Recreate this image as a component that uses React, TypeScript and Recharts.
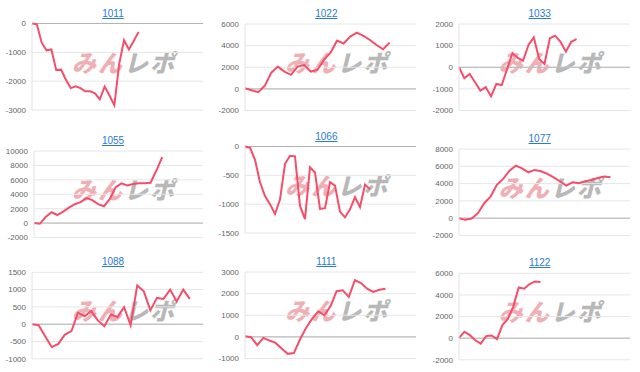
import React from "react"
import { LineChart, Line, XAxis, YAxis, CartesianGrid, ReferenceLine } from "recharts"

// one value per report day
const v1011 = [0, -30, -665, -930, -900, -1610, -1600, -1950, -2240, -2180, -2240, -2350, -2350, -2420, -2630, -2190, -2500, -2840, -1400, -580, -900, -610, -290]
const v1022 = [60, -120, -300, 280, 1500, 2060, 1600, 1300, 2060, 2200, 1600, 1750, 2680, 3350, 4460, 4200, 4830, 5200, 4900, 4520, 4060, 3660, 4280]
const v1033 = [0, -510, -310, -690, -1080, -920, -1340, -770, -820, -80, 660, 430, 310, 1030, 1380, 380, 150, 1340, 1460, 1180, 720, 1180, 1300]
const v1055 = [0, -100, 840, 1500, 1120, 1590, 2150, 2620, 2900, 3460, 3180, 2620, 2340, 3320, 4950, 5510, 5230, 5420, 5510, 5510, 5600, 7290, 9160]
const v1066 = [0, -20, -230, -620, -860, -1000, -1170, -920, -300, -160, -170, -1030, -1260, -360, -450, -1080, -1070, -620, -680, -1130, -1230, -1090, -880, -1050, -660, -740]
const v1077 = [0, -190, -40, 580, 1730, 2500, 3850, 4540, 5500, 6080, 5770, 5310, 5580, 5420, 5120, 4730, 4270, 3770, 4150, 4040, 4270, 4420, 4650, 4810, 4730]
const v1088 = [0, -30, -350, -660, -570, -300, -200, 330, 230, 380, 110, -60, 280, 210, 490, -30, 1120, 950, 400, 760, 730, 1000, 660, 1000, 730]
const v1111 = [30, -15, -385, -45, -170, -280, -540, -785, -750, -120, 415, 845, 1180, 1000, 1420, 2110, 2150, 1850, 2620, 2490, 2230, 2080, 2180, 2230]
const v1122 = [30, 590, 280, -190, -500, 190, 250, -90, 1210, 1770, 2920, 4690, 4570, 5000, 5250, 5190]

const t1011 = [-3000, -2000, -1000, 0]
const t1022 = [-2000, 0, 2000, 4000, 6000]
const t1033 = [-2000, -1000, 0, 1000, 2000]
const t1055 = [-2000, 0, 2000, 4000, 6000, 8000, 10000]
const t1066 = [-1500, -1000, -500, 0]
const t1077 = [-2000, 0, 2000, 4000, 6000, 8000]
const t1088 = [-1000, -500, 0, 500, 1000, 1500]
const t1111 = [-1000, 0, 1000, 2000, 3000]
const t1122 = [-2000, 0, 2000, 4000, 6000]

// how many days the hidden x axis covers in each chart
const spans = [35.3, 26, 32, 29, 34.2, 27.1, 26, 28, 31.5]

const titles = ["1011", "1022", "1033", "1055", "1066", "1077", "1088", "1111", "1122"]
const series = [v1011, v1022, v1033, v1055, v1066, v1077, v1088, v1111, v1122]
const tickSets = [t1011, t1022, t1033, t1055, t1066, t1077, t1088, t1111, t1122]

// top of each plot area inside its cell (the cells don't line up exactly)
const plotTops = [23.5, 24, 24, 27, 22.5, 25, 24.3, 24, 25.3]

const CELL_W = 213.33
const CELL_H = 124
const PLOT_H = 86.5
const LINE_COLOR = "#f44e6b"

interface SmallChartProps {
  title: string
  values: number[]
  ticks: number[]
  span: number
  top: number
}

const SmallChart: React.FC<SmallChartProps> = ({ title, values, ticks, span, top }) => {
  const data = values.map((v, i) => ({ x: i, v }))
  const yWidth = ticks[ticks.length - 1] >= 10000 ? 34 : 32

  return (
    <div style={{ position: "relative", width: CELL_W, height: CELL_H }}>
      <div
        style={{
          position: "absolute",
          top: top - 19,
          left: 0,
          width: 226,
          textAlign: "center",
          lineHeight: "14px",
        }}
      >
        <span style={{ color: "#2a7ad2", textDecoration: "underline", fontSize: 10, fontFamily: "Arial, 'Liberation Sans', sans-serif" }}>
          {title}
        </span>
      </div>

      {/* site watermark behind the line */}
      <div
        style={{
          position: "absolute",
          top: top + 26,
          left: 72,
          fontFamily: "'Noto Sans CJK JP', sans-serif",
          fontWeight: 900,
          fontStyle: "italic",
          fontSize: 24,
          lineHeight: "24px",
          letterSpacing: 2,
          whiteSpace: "nowrap",
        }}
      >
        <span style={{ color: "#efb0b5" }}>みん</span>
        <span style={{ color: "#b8b8b8" }}>レポ</span>
      </div>

      <div style={{ position: "absolute", top: 0, left: 0 }}>
        <LineChart
          width={213}
          height={CELL_H}
          data={data}
          margin={{ top, right: 10, bottom: CELL_H - top - PLOT_H, left: 0 }}
        >
          <CartesianGrid vertical={false} stroke="#e6e6e6" />
          <XAxis type="number" dataKey="x" domain={[0, span]} hide />
          <YAxis
            domain={[ticks[0], ticks[ticks.length - 1]]}
            ticks={ticks}
            interval={0}
            tickLine={false}
            axisLine={{ stroke: "#e2e2e2" }}
            tickSize={4}
            tickMargin={2}
            width={yWidth}
            tick={{ fontSize: 8, fill: "#666", fontFamily: "Arial, 'Liberation Sans', sans-serif" }}
          />
          <ReferenceLine y={0} stroke="#b3b3b3" />
          <Line type="linear" dataKey="v" stroke={LINE_COLOR} strokeWidth={2} dot={false} isAnimationActive={false} />
        </LineChart>
      </div>
    </div>
  )
}

export default function App() {
  return (
    <div
      style={{
        position: "absolute",
        top: 0,
        left: 0,
        width: 640,
        height: 372,
        background: "#fff",
        display: "grid",
        gridTemplateColumns: `repeat(3, ${CELL_W}px)`,
        gridTemplateRows: `repeat(3, ${CELL_H}px)`,
      }}
    >
      {titles.map((t, i) => (
        <SmallChart key={t} title={t} values={series[i]} ticks={tickSets[i]} span={spans[i]} top={plotTops[i]} />
      ))}
    </div>
  )
}
